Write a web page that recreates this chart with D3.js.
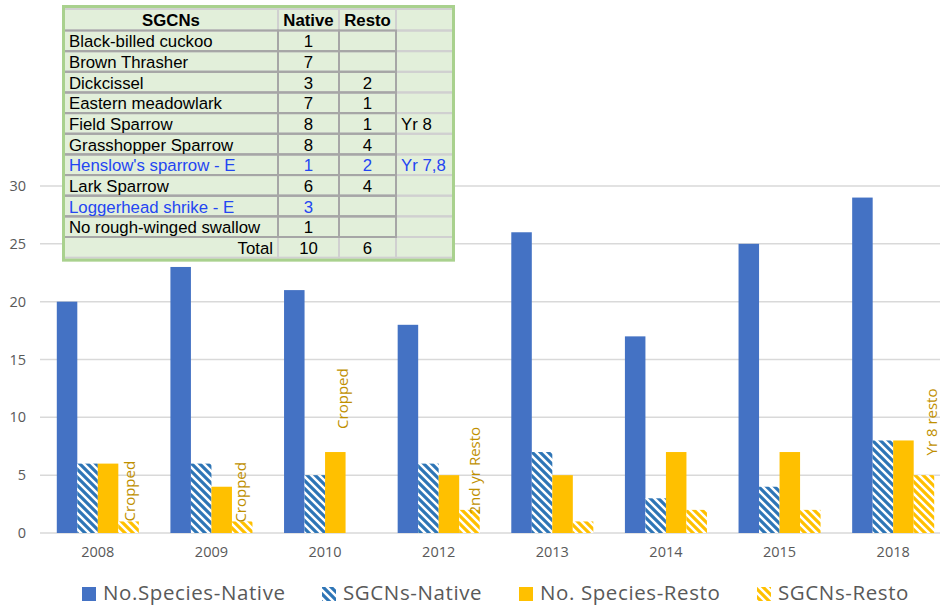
<!DOCTYPE html>
<html><head><meta charset="utf-8">
<script src="https://cdn.jsdelivr.net/npm/d3@7"></script>
<style>
html,body{margin:0;padding:0;background:#fff;}
svg{display:block;}
</style></head>
<body>
<svg id="chart" width="940" height="605"></svg>
<script>
// ---------- DATA ----------
const years = ["2008","2009","2010","2012","2013","2014","2015","2018"];
const seriesNames = ["No.Species-Native","SGCNs-Native","No. Species-Resto","SGCNs-Resto"];
const speciesNative = [20,23,21,18,26,17,25,29];
const sgcnNative    = [6,6,5,6,7,3,4,8];
const speciesResto  = [6,4,7,5,5,7,7,8];
const sgcnResto     = [1,1,0,2,1,2,2,5];
const yTicks = [0,5,10,15,20,25,30];

// bar annotations: year, series index, text, value at which the label starts
const noteYears  = ["2008","2009","2010","2012","2018"];
const noteSeries = [3,3,2,3,3];
const noteTexts  = ["Cropped","Cropped","Cropped","2nd yr Resto","Yr 8 resto"];
const noteAt     = [1,0.9,9,1.6,6.7];

// inset table
const tableHeader = ["SGCNs","Native","Resto",""];
const tableSpecies = ["Black-billed cuckoo","Brown Thrasher","Dickcissel","Eastern meadowlark","Field Sparrow","Grasshopper Sparrow","Henslow's sparrow - E","Lark Sparrow","Loggerhead shrike - E","No rough-winged swallow"];
const tableNative = ["1","7","3","7","8","8","1","6","3","1"];
const tableResto  = ["","","2","1","1","4","2","4","",""];
const tableNote   = ["","","","","Yr 8","","Yr 7,8","","",""];
const tableEndangered = [false,false,false,false,false,false,true,false,true,false];
const tableTotal = ["Total","10","6",""];

// ---------- STYLE ----------
const C_BLUE = "#4472C4", C_HBLUE = "#2E75B6", C_GOLD = "#FFC000", C_LABEL = "#BF9000";
const C_TEXT = "#595959", C_GRID = "#D9D9D9";
const noteNudge = [0,-2,7,5,7];

const svg = d3.select("#chart");
const defs = svg.append("defs");
function hatch(id, color){
  const p = defs.append("pattern").attr("id",id).attr("patternUnits","userSpaceOnUse")
    .attr("width",8).attr("height",8);
  p.append("rect").attr("width",8).attr("height",8).attr("fill","#fff");
  p.append("path").attr("d","M-2,-2 L10,10 M6,-2 L10,2 M-2,6 L2,10")
    .attr("stroke",color).attr("stroke-width",3.2);
  return `url(#${id})`;
}
const fills = [C_BLUE, hatch("hb",C_HBLUE), C_GOLD, hatch("hg",C_GOLD)];
const values = [speciesNative, sgcnNative, speciesResto, sgcnResto];

const y = d3.scaleLinear().domain([0,30]).range([533,186]);
const x = d3.scaleBand().domain(years).range([41,950]).paddingInner(0.278).paddingOuter(0.139);
const xs = d3.scaleBand().domain(d3.range(4)).range([0,x.bandwidth()]);

// gridlines
svg.append("g").selectAll("line").data(yTicks).join("line")
  .attr("x1",40).attr("x2",940).attr("y1",d=>y(d)).attr("y2",d=>y(d))
  .attr("stroke",C_GRID).attr("stroke-width",1.5);

// y labels
const yAxis = d3.axisLeft(y).tickValues(yTicks).tickSize(0).tickPadding(0);
const ya = svg.append("g").attr("transform","translate(26,0)").call(yAxis);
ya.select(".domain").remove();
ya.selectAll("text").attr("fill",C_TEXT).style("font-family","Open Sans").style("font-size","14.5px");

// x labels
const xAxis = d3.axisBottom(x).tickSize(0).tickPadding(0);
const xa = svg.append("g").attr("transform","translate(0,547)").call(xAxis);
xa.select(".domain").remove();
xa.selectAll("text").attr("fill",C_TEXT).style("font-family","Open Sans").style("font-size","14.5px");

// bars
const gBars = svg.append("g");
years.forEach((yr,i)=>{
  values.forEach((vals,s)=>{
    if(vals[i]<=0) return;
    gBars.append("rect")
      .attr("x",x(yr)+xs(s)).attr("width",xs.bandwidth())
      .attr("y",y(vals[i])).attr("height",y(0)-y(vals[i]))
      .attr("fill",fills[s]);
  });
});

// annotations
noteYears.forEach((yr,i)=>{
  const cx = x(yr)+xs(noteSeries[i])+xs.bandwidth()/2 + noteNudge[i];
  const cy = y(noteAt[i]);
  svg.append("text").attr("transform",`translate(${cx},${cy}) rotate(-90)`)
    .attr("dominant-baseline","central").attr("fill",C_LABEL)
    .style("font-family","Open Sans").style("font-size","15px").text(noteTexts[i]);
});

// legend
const lg = svg.append("g");
const legendX = [82,322,519,757];
seriesNames.forEach((n,i)=>{
  lg.append("rect").attr("x",legendX[i]).attr("y",587).attr("width",14).attr("height",14).attr("fill",fills[i]);
  lg.append("text").attr("x",legendX[i]+21).attr("y",600).attr("fill",C_TEXT)
    .style("font-family","Open Sans").style("font-size","20.5px").style("letter-spacing","0.6px").text(n);
});

// ---------- TABLE ----------
const colX = [64,278,339,396,453];
const rowTop = 9, headerH = 21.5, rowH = 20.65;
const nRows = tableSpecies.length;
const tg = svg.append("g").style("font-family","Liberation Sans, Arial, sans-serif").style("font-size","16.8px");
const tBottom = rowTop + headerH + (nRows+1)*rowH;
tg.append("rect").attr("x",colX[0]).attr("y",rowTop-2).attr("width",colX[4]-colX[0]).attr("height",tBottom-rowTop+4)
  .attr("fill","#E2EFDA");
const rowY = r => r===0 ? rowTop : rowTop+headerH+(r-1)*rowH;
const rowHt = r => r===0 ? headerH : rowH;
for(let r=0;r<=nRows+1;r++){
  for(let c=0;c<4;c++){
    tg.append("rect").attr("x",colX[c]).attr("y",rowY(r)).attr("width",colX[c+1]-colX[c]).attr("height",rowHt(r))
      .attr("fill","none").attr("stroke","#D0D0D0").attr("stroke-width",2);
  }
}
for(let r=1;r<=nRows;r++){
  for(let c=0;c<3;c++){
    tg.append("rect").attr("x",colX[c]).attr("y",rowY(r)).attr("width",colX[c+1]-colX[c]).attr("height",rowHt(r))
      .attr("fill","none").attr("stroke","#A6A6A6").attr("stroke-width",2);
  }
}
tg.append("rect").attr("x",colX[0]-0.5).attr("y",rowTop-2.5).attr("width",colX[4]-colX[0]+1).attr("height",tBottom-rowTop+5)
  .attr("fill","none").attr("stroke","#A9D18E").attr("stroke-width",3);
tableHeader.forEach((h,c)=>{
  tg.append("text").attr("x",(colX[c]+colX[c+1])/2).attr("y",rowY(0)+headerH/2+1)
    .attr("text-anchor","middle").attr("dominant-baseline","central").attr("font-weight","bold").attr("fill","#000").text(h);
});
tableSpecies.forEach((sp,i)=>{
  const r=i+1, cy=rowY(r)+rowH/2+1, col = tableEndangered[i] ? "#2446F2" : "#000";
  const cells=[sp,tableNative[i],tableResto[i],tableNote[i]];
  cells.forEach((t,c)=>{
    if(!t) return;
    const tx = c===0 ? colX[0]+5 : c===3 ? colX[3]+5 : (colX[c]+colX[c+1])/2;
    tg.append("text").attr("x",tx).attr("y",cy).attr("text-anchor",(c===0||c===3)?"start":"middle")
      .attr("dominant-baseline","central").attr("fill",col).text(t);
  });
});
{
  const cy=rowY(nRows+1)+rowH/2+1;
  tg.append("text").attr("x",colX[1]-5).attr("y",cy).attr("text-anchor","end").attr("dominant-baseline","central").text(tableTotal[0]);
  [1,2].forEach(c=>tg.append("text").attr("x",(colX[c]+colX[c+1])/2).attr("y",cy).attr("text-anchor","middle").attr("dominant-baseline","central").text(tableTotal[c]));
}
</script>
</body></html>
